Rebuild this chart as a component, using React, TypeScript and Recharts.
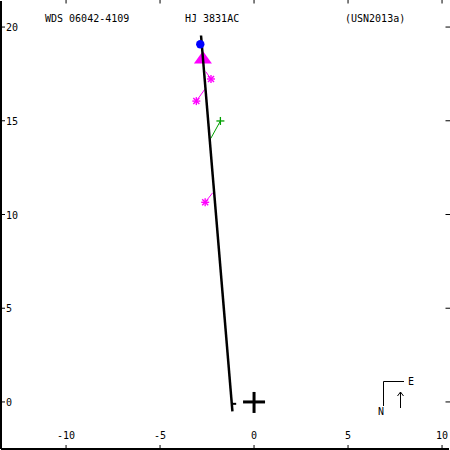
import { ScatterChart, Scatter, XAxis, YAxis } from "recharts";

// plot geometry (px) – the frame fills the whole 450x450 picture
const W = 450;
const H = 450;

const X_DOMAIN = [-13.46, 10.37];
const Y_DOMAIN = [-2.51, 21.39];
const X_TICKS = [-10, -5, 0, 5, 10];
const Y_TICKS = [0, 5, 10, 15, 20];

const TITLE_LEFT = "WDS 06042-4109";
const TITLE_MID = "HJ 3831AC";
const TITLE_RIGHT = "(USN2013a)";

// orbit (edge-on, nearly a straight line)
const ORBIT = [
  { x: -2.82, y: 19.55 },
  { x: -1.15, y: -0.5 },
];
const ORBIT_STUB = [
  { x: -1.17, y: -0.1 },
  { x: -0.95, y: -0.1 },
];

const PRIMARY = [{ x: 0, y: 0 }];
const CURRENT = [{ x: -2.86, y: 19.08 }];
const EPOCH = [{ x: -2.72, y: 18.35 }];

const OBS_MAGENTA = [
  { x: -2.29, y: 17.23 },
  { x: -3.07, y: 16.05 },
  { x: -2.6, y: 10.65 },
];
const OBS_MAGENTA_ON_ORBIT = [
  { x: -2.57, y: 17.62 },
  { x: -2.62, y: 16.68 },
  { x: -2.2, y: 11.16 },
];
const OBS_GREEN = [{ x: -1.79, y: 14.99 }];
const OBS_GREEN_ON_ORBIT = [{ x: -2.3, y: 14.06 }];

const MAGENTA = "#ff00ff";
const GREEN = "#00a000";
const BLUE = "#0000ff";
const FONT = "'DejaVu Sans Mono', monospace";

const empty = () => <g />;

function Asterisk({ cx, cy }: any) {
  const r = 4;
  const d = 3;
  return (
    <g stroke={MAGENTA} strokeWidth={1.4}>
      <line x1={cx - r} x2={cx + r} y1={cy} y2={cy} />
      <line x1={cx} x2={cx} y1={cy - r} y2={cy + r} />
      <line x1={cx - d} x2={cx + d} y1={cy - d} y2={cy + d} />
      <line x1={cx - d} x2={cx + d} y1={cy + d} y2={cy - d} />
    </g>
  );
}

function GreenPlus({ cx, cy }: any) {
  return (
    <g stroke={GREEN} strokeWidth={1.3}>
      <line x1={cx - 4} x2={cx + 4} y1={cy} y2={cy} />
      <line x1={cx} x2={cx} y1={cy - 4} y2={cy + 4} />
    </g>
  );
}

function BigCross({ cx, cy }: any) {
  return (
    <g stroke="#000" strokeWidth={3}>
      <line x1={cx - 11} x2={cx + 11} y1={cy} y2={cy} />
      <line x1={cx} x2={cx} y1={cy - 10} y2={cy + 11} />
    </g>
  );
}

function Dot({ cx, cy }: any) {
  return <circle cx={cx} cy={cy} r={4.2} fill={BLUE} />;
}

function Triangle({ cx, cy }: any) {
  return (
    <polygon
      points={`${cx},${cy - 7} ${cx - 9},${cy + 5.5} ${cx + 9},${cy + 5.5}`}
      fill={MAGENTA}
    />
  );
}

const label = { fontFamily: FONT, fontSize: 10, fill: "#000" };

function BottomTick({ x, payload }: any) {
  return (
    <g>
      <line x1={x} x2={x} y1={H - 1} y2={H - 5} stroke="#000" />
      <text x={x} y={439} textAnchor="middle" {...label}>
        {payload.value}
      </text>
    </g>
  );
}

function TopTick({ x }: any) {
  return <line x1={x} x2={x} y1={0} y2={3.5} stroke="#000" />;
}

function LeftTick({ y, payload }: any) {
  return (
    <g>
      <line x1={0} x2={5} y1={y} y2={y} stroke="#000" />
      <text x={6} y={y + 4} textAnchor="start" {...label}>
        {payload.value}
      </text>
    </g>
  );
}

function RightTick({ y }: any) {
  return <line x1={W - 4.5} x2={W} y1={y} y2={y} stroke="#000" />;
}

export default function App() {
  return (
    <div style={{ position: "absolute", left: 0, top: 0, width: W, height: H, background: "#fff" }}>
      <ScatterChart width={W} height={H} margin={{ top: 0, right: 0, bottom: 0, left: 0 }}>
        <XAxis
          xAxisId={0}
          type="number"
          dataKey="x"
          domain={X_DOMAIN}
          ticks={X_TICKS}
          interval={0}
          allowDataOverflow
          height={1}
          axisLine={{ stroke: "#000", strokeWidth: 2 }}
          tickLine={false}
          tick={<BottomTick />}
        />
        <XAxis
          xAxisId="top"
          orientation="top"
          type="number"
          dataKey="x"
          domain={X_DOMAIN}
          ticks={X_TICKS}
          interval={0}
          allowDataOverflow
          height={1}
          axisLine={false}
          tickLine={false}
          tick={<TopTick />}
        />
        <YAxis
          yAxisId={0}
          type="number"
          dataKey="y"
          domain={Y_DOMAIN}
          ticks={Y_TICKS}
          interval={0}
          allowDataOverflow
          width={1}
          axisLine={{ stroke: "#000", strokeWidth: 2 }}
          tickLine={false}
          tick={<LeftTick />}
        />
        <YAxis
          yAxisId="right"
          orientation="right"
          type="number"
          dataKey="y"
          domain={Y_DOMAIN}
          ticks={Y_TICKS}
          interval={0}
          allowDataOverflow
          width={1}
          axisLine={false}
          tickLine={false}
          tick={<RightTick />}
        />

        {OBS_MAGENTA.map((p, i) => (
          <Scatter
            key={"m" + i}
            data={[p, OBS_MAGENTA_ON_ORBIT[i]]}
            line={{ stroke: MAGENTA, strokeWidth: 1 }}
            shape={empty}
            isAnimationActive={false}
          />
        ))}
        {OBS_GREEN.map((p, i) => (
          <Scatter
            key={"g" + i}
            data={[p, OBS_GREEN_ON_ORBIT[i]]}
            line={{ stroke: GREEN, strokeWidth: 1 }}
            shape={empty}
            isAnimationActive={false}
          />
        ))}

        <Scatter data={EPOCH} shape={<Triangle />} isAnimationActive={false} />
        <Scatter
          data={ORBIT}
          line={{ stroke: "#000", strokeWidth: 2.5 }}
          shape={empty}
          isAnimationActive={false}
        />
        <Scatter
          data={ORBIT_STUB}
          line={{ stroke: "#000", strokeWidth: 2 }}
          shape={empty}
          isAnimationActive={false}
        />
        <Scatter data={CURRENT} shape={<Dot />} isAnimationActive={false} />
        <Scatter data={OBS_MAGENTA} shape={<Asterisk />} isAnimationActive={false} />
        <Scatter data={OBS_GREEN} shape={<GreenPlus />} isAnimationActive={false} />
        <Scatter data={PRIMARY} shape={<BigCross />} isAnimationActive={false} />
      </ScatterChart>

      <svg
        width={W}
        height={H}
        style={{ position: "absolute", left: 0, top: 0, pointerEvents: "none" }}
      >
        <g {...label}>
          <text x={45} y={22}>{TITLE_LEFT}</text>
          <text x={185} y={22}>{TITLE_MID}</text>
          <text x={345} y={22}>{TITLE_RIGHT}</text>
        </g>
        {/* orientation marker */}
        <g stroke="#000" strokeWidth={1} fill="none">
          <polyline points="383.5,406 383.5,381.5 404,381.5" />
          <line x1={400.5} x2={400.5} y1={392} y2={408} />
          <polyline points="397.5,396 400.5,392 403.5,396" />
        </g>
        <text x={408} y={385} {...label}>E</text>
        <text x={378} y={415} {...label}>N</text>
      </svg>
    </div>
  );
}
